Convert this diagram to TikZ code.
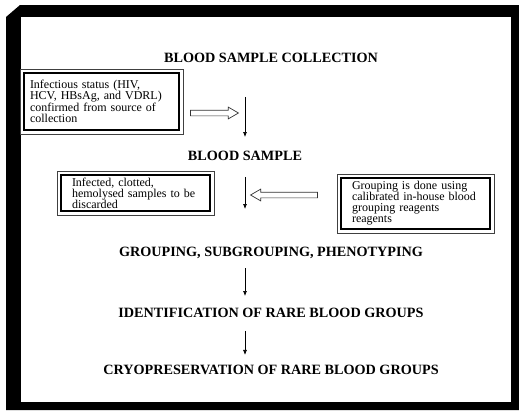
\documentclass[tikz,border=0pt]{standalone}
\usepackage{fontspec}
\setmainfont{Liberation Serif}
\usetikzlibrary{arrows.meta,shapes.arrows,positioning}

\tikzset{
	heading/.style={font=\bfseries\fontsize{14.2}{16}\selectfont, inner sep=0pt},
	notebox/.style={draw, line width=1.8pt, fill=white, align=left,
		font=\fontsize{12}{11}\selectfont, inner ysep=1pt},
	rim/.style={draw=black!75, line width=0.8pt},
	flow/.style={-{Latex[length=5pt,width=4pt]}, line width=0.7pt},
	hollow/.style={single arrow, draw=black!80, line width=0.7pt, fill=white,
		inner xsep=0pt, inner ysep=2.5pt, single arrow head extend=3pt,
		single arrow tip angle=60}
}

\begin{document}
\begin{tikzpicture}[x=1pt,y=-1pt]
	\useasboundingbox (0,0) rectangle (519,410);
	
	% frame
	\fill[white] (0,0) rectangle (519,410);
	\fill[black] (20,5) -- (519,5) -- (519,410) -- (6,410) -- (6,17) -- cycle;
	\fill[white] (21,17) rectangle (511,402);
	
	% main steps
	\node[heading] (collect) at (271,58) {BLOOD SAMPLE COLLECTION};
	\node[heading] (sample) at (245,156) {BLOOD SAMPLE};
	\node[heading] (grouping) at (271,253) {GROUPING, SUBGROUPING, PHENOTYPING};
	\node[heading] (rare) at (271,313) {IDENTIFICATION OF RARE BLOOD GROUPS};
	\node[heading] (cryo) at (271,370) {CRYOPRESERVATION OF RARE BLOOD GROUPS};
	
	% side notes
	\node[notebox, text width=143pt, inner xsep=6pt, minimum height=57pt] (infect) at (101.5,101.5)
		{Infectious status (HIV,\\ HCV, HBsAg, and VDRL)\\ confirmed from source of\\ collection};
	\node[notebox, text width=127pt, inner xsep=11pt, minimum height=36pt] (discard) at (135.5,193)
		{Infected, clotted,\\ hemolysed samples to be\\ discarded};
	\node[notebox, text width=127pt, inner xsep=11pt, minimum height=51pt] (reagent) at (415.5,203.5)
		{Grouping is done using\\ calibrated in-house blood\\ grouping reagents\\ reagents};
	
	\foreach \n in {infect,discard,reagent}
		\draw[rim] ([shift={(-3pt,3pt)}]\n.north west) rectangle ([shift={(3pt,-3pt)}]\n.south east);
	
	% hollow arrows
	\node[hollow, minimum height=48pt] (push) at (212,113) {};
	\node[hollow, minimum height=67pt, shape border rotate=180] (pull) at (286.5,195) {};
	
	% flow
	\draw[flow, shorten <=34pt, shorten >=14pt] (collect.south -| sample) -- (sample.north);
	\draw[flow, shorten <=16pt, shorten >=38pt] (sample.south) -- (grouping.north -| sample);
	\draw[flow, shorten <=9pt, shorten >=12pt] (grouping.south -| sample) -- (rare.north -| sample);
	\draw[flow, shorten <=13pt, shorten >=10pt] (rare.south -| sample) -- (cryo.north -| sample);
\end{tikzpicture}
\end{document}
